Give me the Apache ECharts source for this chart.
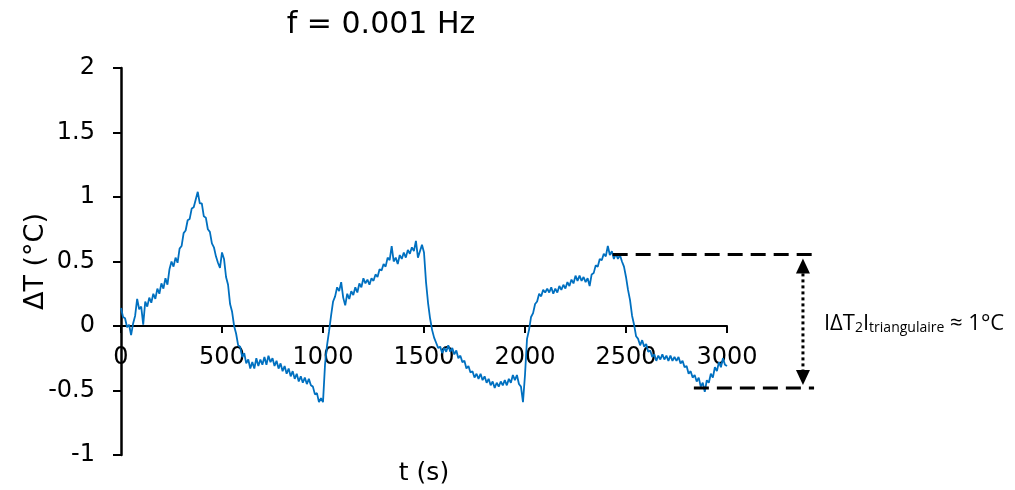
<!DOCTYPE html>
<html>
<head>
<meta charset="utf-8">
<script src="https://cdn.jsdelivr.net/npm/echarts@6/dist/echarts.min.js"></script>
<style>
html,body{margin:0;padding:0;background:#fff;}
#c{width:1015px;height:490px;}
</style>
</head>
<body>
<div id="c"></div>
<script>
var sampleStep = 10;
var cycle1 = [ // t = 0 .. 990 s
0.14, 0.07, 0.06, -0.01, 0.01, -0.07, 0.02, 0.08, 0.21, 0.13,
0.15, 0.01, 0.19, 0.15, 0.22, 0.18, 0.25, 0.21, 0.29, 0.25,
0.33, 0.29, 0.37, 0.32, 0.44, 0.50, 0.46, 0.53, 0.49, 0.60,
0.62, 0.72, 0.74, 0.82, 0.83, 0.91, 0.92, 0.98, 1.04, 0.95,
0.95, 0.85, 0.84, 0.75, 0.73, 0.64, 0.61, 0.54, 0.49, 0.45,
0.57, 0.52, 0.38, 0.32, 0.17, 0.11, 0.00, -0.06, -0.15, -0.16,
-0.24, -0.21, -0.29, -0.26, -0.33, -0.28, -0.33, -0.25, -0.31, -0.26,
-0.30, -0.24, -0.30, -0.23, -0.28, -0.25, -0.31, -0.27, -0.33, -0.29,
-0.35, -0.31, -0.37, -0.33, -0.39, -0.35, -0.41, -0.37, -0.43, -0.39,
-0.44, -0.40, -0.45, -0.41, -0.46, -0.47, -0.53, -0.52, -0.59, -0.56
];
var cycle2 = [ // t = 1000 .. 1990 s
-0.59, -0.30, -0.15, -0.04, 0.08, 0.19, 0.23, 0.30, 0.27, 0.34,
0.22, 0.16, 0.25, 0.21, 0.27, 0.24, 0.30, 0.26, 0.33, 0.30,
0.37, 0.33, 0.36, 0.32, 0.37, 0.35, 0.40, 0.38, 0.44, 0.43,
0.48, 0.46, 0.53, 0.51, 0.62, 0.50, 0.53, 0.48, 0.55, 0.52,
0.57, 0.53, 0.59, 0.56, 0.61, 0.58, 0.66, 0.53, 0.58, 0.63,
0.57, 0.34, 0.18, 0.06, -0.03, -0.09, -0.13, -0.17, -0.16, -0.21,
-0.17, -0.20, -0.15, -0.20, -0.17, -0.22, -0.19, -0.25, -0.23, -0.28,
-0.27, -0.33, -0.31, -0.36, -0.35, -0.40, -0.37, -0.41, -0.37, -0.42,
-0.39, -0.44, -0.41, -0.46, -0.43, -0.48, -0.44, -0.47, -0.43, -0.46,
-0.42, -0.46, -0.41, -0.44, -0.38, -0.42, -0.38, -0.45, -0.47, -0.59
];
var cycle3 = [ // t = 2000 .. 3000 s
-0.38, -0.10, -0.03, 0.07, 0.10, 0.17, 0.19, 0.25, 0.23, 0.28,
0.26, 0.29, 0.26, 0.30, 0.25, 0.29, 0.26, 0.31, 0.28, 0.32,
0.29, 0.34, 0.31, 0.36, 0.33, 0.39, 0.35, 0.39, 0.35, 0.38,
0.34, 0.37, 0.31, 0.40, 0.41, 0.47, 0.46, 0.52, 0.51, 0.56,
0.54, 0.62, 0.55, 0.58, 0.52, 0.56, 0.52, 0.55, 0.50, 0.46,
0.38, 0.28, 0.20, 0.08, 0.01, -0.08, -0.10, -0.15, -0.11, -0.16,
-0.14, -0.20, -0.19, -0.24, -0.22, -0.27, -0.23, -0.26, -0.22, -0.26,
-0.23, -0.27, -0.23, -0.27, -0.24, -0.27, -0.24, -0.29, -0.27, -0.32,
-0.31, -0.37, -0.35, -0.40, -0.38, -0.43, -0.40, -0.47, -0.44, -0.51,
-0.42, -0.44, -0.37, -0.40, -0.32, -0.35, -0.28, -0.32, -0.25, -0.30, -0.31
];
var xTicks = [0, 500, 1000, 1500, 2000, 2500, 3000];
var yTicks = [-1, -0.5, 0, 0.5, 1, 1.5, 2];
// Annotation (data space): levels of the two dashed lines and the span
var annoLevels = [0.555, -0.48];
var annoStarts = [2434, 2836];
var annoEnd = 3431;
var arrowT = 3376;
var titleText = 'f = 0.001 Hz';
var annoLabel = ['IΔT', '2', 'I', 'triangulaire', ' ≈ 1°C'];

(function () {
  var values = cycle1.concat(cycle2, cycle3);
  var seriesData = values.map(function (v, i) { return [i * sampleStep, v]; });

  var FONT = 'DejaVu Sans';
  var gridTop = 68, gridBottom = 35, H = 490;
  var yMin = yTicks[0], yMax = yTicks[yTicks.length - 1];
  // shift the x axis (line, ticks, labels, name) up to the y = 0 level
  var zeroOffset = -(H - gridTop - gridBottom) * (0 - yMin) / (yMax - yMin);

  var chart = echarts.init(document.getElementById('c'), null, {renderer: 'canvas'});
  chart.setOption({
    animation: false,
    backgroundColor: '#ffffff',
    grid: {left: 121, right: 288, top: gridTop, bottom: gridBottom, containLabel: false, outerBoundsMode: 'none'},
    xAxis: {
      type: 'value', min: xTicks[0], max: xTicks[xTicks.length - 1], interval: 500,
      position: 'bottom', offset: zeroOffset,
      name: 't (s)', nameLocation: 'middle', nameGap: 135, nameMoveOverlap: false,
      nameTextStyle: {fontFamily: FONT, fontSize: 25, color: '#000'},
      axisLine: {onZero: false, lineStyle: {color: '#000', width: 2}},
      axisTick: {show: true, inside: false, length: 7, lineStyle: {color: '#000', width: 2}},
      axisLabel: {margin: 20, fontFamily: FONT, fontSize: 24, color: '#000',
        formatter: function (v) { return String(v); }},
      splitLine: {show: false}
    },
    yAxis: {
      type: 'value', min: yMin, max: yMax, interval: 0.5,
      name: 'ΔT (°C)', nameLocation: 'middle', nameGap: 72, nameRotate: 90, nameMoveOverlap: false,
      nameTextStyle: {fontFamily: FONT, fontSize: 27, color: '#000'},
      axisLine: {show: true, onZero: false, lineStyle: {color: '#000', width: 2.5}},
      axisTick: {show: true, inside: false, length: 8, lineStyle: {color: '#000', width: 2}},
      axisLabel: {margin: 26, fontFamily: FONT, fontSize: 24, color: '#000',
        formatter: function (v) { return String(v); }},
      splitLine: {show: false}
    },
    series: [{
      type: 'line', data: seriesData, showSymbol: false, symbol: 'none',
      lineStyle: {color: '#0070C0', width: 1.8}, clip: false, z: 3
    }]
  });

  function px(t, v) { return chart.convertToPixel({gridIndex: 0}, [t, v]); }
  var g = [];
  g.push({type: 'text', x: 381, y: 25, style: {text: titleText, font: '30px "DejaVu Sans"', fill: '#000', textAlign: 'center', textVerticalAlign: 'middle'}});
  for (var k = 0; k < annoLevels.length; k++) {
    var a = px(annoStarts[k], annoLevels[k]);
    var b = px(annoEnd, annoLevels[k]);
    g.push({type: 'line', shape: {x1: a[0], y1: a[1], x2: b[0], y2: b[1]},
      style: {stroke: '#000', lineWidth: 3, lineDash: [15, 8]}, z: 10});
  }
  var pTop = px(arrowT, annoLevels[0]);
  var pBot = px(arrowT, annoLevels[1]);
  var ax = pTop[0], yTop = pTop[1] + 4, yBot = pBot[1] - 3;
  var head = 15, hw = 7;
  g.push({type: 'line', shape: {x1: ax, y1: yTop + head, x2: ax, y2: yBot - head},
    style: {stroke: '#000', lineWidth: 3, lineDash: [3, 3]}, z: 10});
  g.push({type: 'polygon', shape: {points: [[ax, yTop], [ax - hw, yTop + head], [ax + hw, yTop + head]]}, style: {fill: '#000'}, z: 10});
  g.push({type: 'polygon', shape: {points: [[ax, yBot], [ax - hw, yBot - head], [ax + hw, yBot - head]]}, style: {fill: '#000'}, z: 10});
  g.push({type: 'text', x: ax + 21, y: (pTop[1] + pBot[1]) / 2 - 1,
    style: {
      text: '{m|' + annoLabel[0] + '}{s|' + annoLabel[1] + '}{m|' + annoLabel[2] + '}{s|' + annoLabel[3] + '}{m|' + annoLabel[4] + '}',
      textVerticalAlign: 'middle', textAlign: 'left',
      rich: {
        m: {fontFamily: 'Open Sans', fontSize: 22, color: '#000', lineHeight: 30, verticalAlign: 'bottom'},
        s: {fontFamily: 'Open Sans', fontSize: 14, color: '#000', lineHeight: 18, verticalAlign: 'bottom'}
      }
    }, z: 10});
  chart.setOption({graphic: g});
})();
</script>
</body>
</html>
